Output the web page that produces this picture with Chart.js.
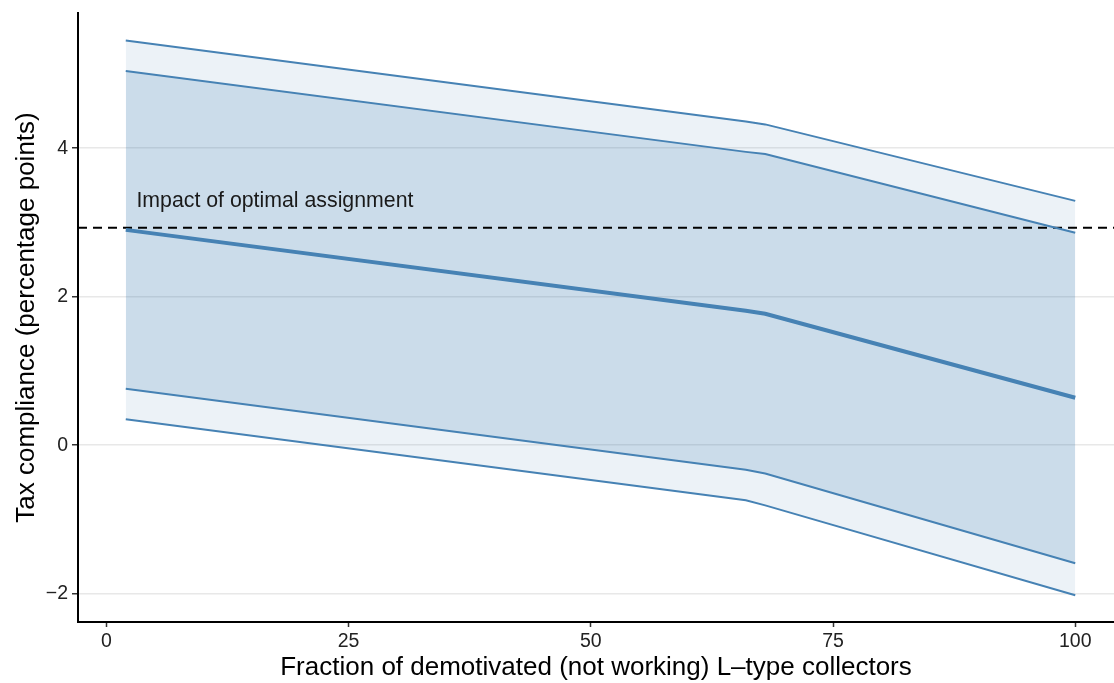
<!DOCTYPE html>
<html lang="en">
<head>
  <meta charset="UTF-8">
  <title>Tax compliance</title>
  <script src="https://cdn.jsdelivr.net/npm/chart.js"></script>
  <style>
    html, body { margin: 0; padding: 0; background: #fff; }
    .container-chart { width: 1114px; height: 683px; }
  </style>
</head>
<body>
  <div class="container-chart">
    <canvas id="myChart" width="1114" height="683"></canvas>
  </div>

<script>
  // fraction of demotivated L-type collectors
  const fraction = [2, 66, 68, 100];
  const mean_effect = [2.90, 1.81, 1.77, 0.64];
  const ci90_upper = [5.04, 3.95, 3.92, 2.86];
  const ci90_lower = [0.76, -0.33, -0.38, -1.59];
  const ci95_upper = [5.45, 4.36, 4.32, 3.29];
  const ci95_lower = [0.35, -0.74, -0.81, -2.02];
  const optimal_impact = 2.93;
  const x_ticks = [0, 25, 50, 75, 100];
  const y_ticks = [-2, 0, 2, 4];

  const xMin = -2.93, xMax = 104.0;
  const yMin = -2.38, yMax = 5.82;

  const blue = 'rgb(70,130,180)';
  const toPoints = vals => fraction.map((f, i) => ({ x: f, y: vals[i] }));

  const labelPlugin = {
    id: 'impactLabel',
    afterDatasetsDraw(chart) {
      const { ctx, scales } = chart;
      ctx.save();
      ctx.font = '21.3px "Liberation Sans", Arial, sans-serif';
      ctx.fillStyle = '#1a1a1a';
      ctx.textBaseline = 'alphabetic';
      ctx.fillText('Impact of optimal assignment', scales.x.getPixelForValue(3.1), scales.y.getPixelForValue(3.21));
      ctx.restore();
    }
  };

  const ctx = document.getElementById('myChart');

  new Chart(ctx, {
    type: 'line',
    data: {
      datasets: [
        { data: toPoints(ci95_upper), borderColor: blue, borderWidth: 2, fill: 1, backgroundColor: 'rgba(70,130,180,0.1)' },
        { data: toPoints(ci95_lower), borderColor: blue, borderWidth: 2, fill: false },
        { data: toPoints(ci90_upper), borderColor: blue, borderWidth: 2, fill: 3, backgroundColor: 'rgba(70,130,180,0.2)' },
        { data: toPoints(ci90_lower), borderColor: blue, borderWidth: 2, fill: false },
        { data: toPoints(mean_effect), borderColor: blue, borderWidth: 4, fill: false },
        { data: [{ x: xMin, y: optimal_impact }, { x: xMax, y: optimal_impact }], borderColor: '#000', borderWidth: 2, borderDash: [9, 6], fill: false }
      ]
    },
    options: {
      responsive: false,
      animation: false,
      layout: { padding: { top: 13, right: 0, left: 0, bottom: 0 } },
      elements: { point: { radius: 0 }, line: { tension: 0 } },
      plugins: {
        legend: { display: false },
        tooltip: { enabled: false },
        filler: { drawTime: 'beforeDatasetsDraw' }
      },
      scales: {
        x: {
          type: 'linear',
          min: xMin,
          max: xMax,
          afterBuildTicks: s => { s.ticks = x_ticks.map(v => ({ value: v })); },
          afterFit: s => { s.height = 61; },
          grid: { display: true, drawOnChartArea: false, tickColor: '#333', tickLength: 5, tickWidth: 1.5 },
          border: { color: '#000', width: 2 },
          ticks: { color: '#222', font: { family: 'Liberation Sans', size: 19.5 }, padding: 3, maxRotation: 0 },
          title: { display: true, text: 'Fraction of demotivated (not working) L\u2013type collectors', color: '#000', font: { family: 'Liberation Sans', size: 26 }, padding: { top: 0, bottom: 0 } }
        },
        y: {
          type: 'linear',
          min: yMin,
          max: yMax,
          afterBuildTicks: s => { s.ticks = y_ticks.map(v => ({ value: v })); },
          afterFit: s => { s.width = 78; s.paddingTop = 0; s.paddingBottom = 0; },
          grid: { color: '#e8e8e8', lineWidth: 1.5, tickColor: '#333', tickLength: 6, tickWidth: 1.5 },
          border: { color: '#000', width: 2 },
          ticks: {
            color: '#222',
            font: { family: 'Liberation Sans', size: 19.5 },
            padding: 4,
            callback: v => String(v).replace('-', '\u2212')
          },
          title: { display: true, text: 'Tax compliance (percentage points)', color: '#000', font: { family: 'Liberation Sans', size: 26 }, padding: { top: 11, bottom: 0 } }
        }
      }
    },
    plugins: [labelPlugin]
  });
</script>
</body>
</html>
